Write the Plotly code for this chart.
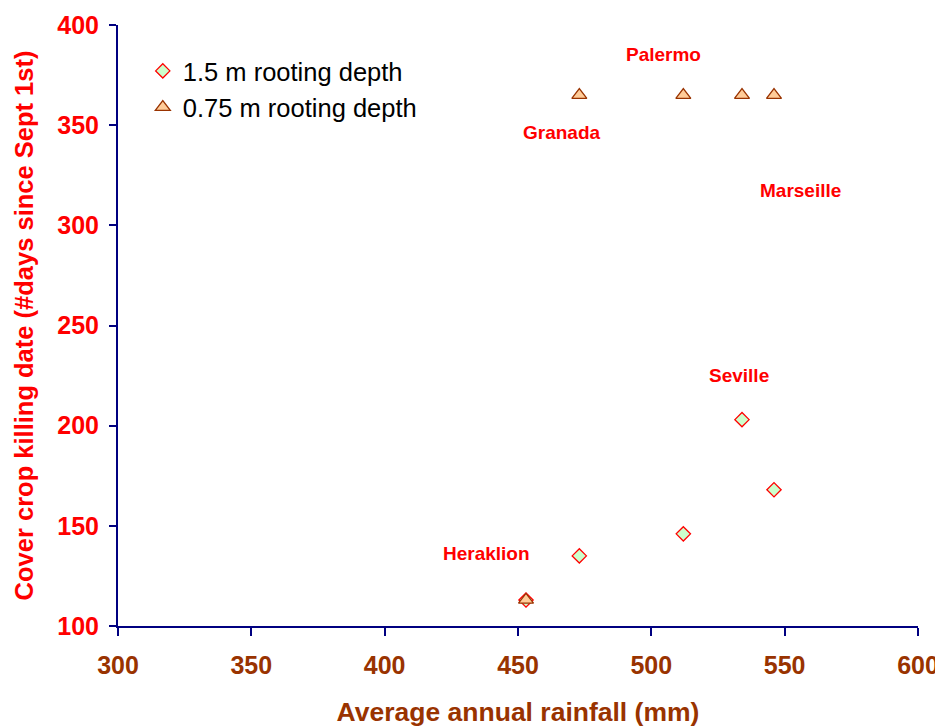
import plotly.graph_objects as go

rainfall = [453, 473, 512, 534, 546]
kill_15m = [113, 135, 146, 203, 168]
kill_075m = [113, 365, 365, 365, 365]

city_names = ["Heraklion", "Granada", "Palermo", "Marseille", "Seville"]
city_x = [438, 466.5, 504.5, 556, 533]
city_y = [136, 346.5, 385.5, 317.5, 225]

fig = go.Figure()
fig.add_trace(go.Scatter(
    x=rainfall, y=kill_15m, mode="markers", name="1.5 m rooting depth",
    legendgroup="a",
    marker=dict(symbol="diamond", size=11, color="#ccffcc",
                line=dict(color="#ff0000", width=1.3))))
fig.add_trace(go.Scatter(
    x=rainfall, y=kill_075m, mode="markers", name="0.75 m rooting depth",
    legendgroup="b",
    marker=dict(symbol="triangle-up", size=13, color="#ffcc99",
                line=dict(color="#993300", width=1.3))))

for n, cx, cy in zip(city_names, city_x, city_y):
    fig.add_annotation(x=cx, y=cy, text=n, showarrow=False, xref="x", yref="y",
                       font=dict(family="Liberation Sans", size=19, color="#ff0000", weight="bold"))

fig.update_layout(
    width=935, height=719,
    margin=dict(l=110, r=25, t=17, b=101, autoexpand=False),
    paper_bgcolor="white", plot_bgcolor="white",
    font=dict(family="Liberation Sans"),
    showlegend=True,
    legend=dict(x=0.031, y=0.962, xanchor="left", yanchor="top",
                bgcolor="rgba(0,0,0,0)", traceorder="grouped", tracegroupgap=0,
                font=dict(family="Liberation Sans", size=25.5, color="black"),
                itemwidth=30),
    xaxis=dict(range=[300, 600], dtick=50, showgrid=False, zeroline=False,
               showline=True, linecolor="#000080", linewidth=2, automargin=False,
               ticks="outside", ticklen=8, tickwidth=2, tickcolor="#000080",
               tickfont=dict(family="Liberation Sans", size=25, color="#993300", weight="bold"),
               ticklabelstandoff=8, ticklabeloverflow="allow",
               title=dict(text="Average annual rainfall (mm)", standoff=26,
                          font=dict(family="Liberation Sans", size=26.5, color="#993300", weight="bold"))),
    yaxis=dict(range=[100, 400], dtick=50, showgrid=False, zeroline=False,
               showline=True, linecolor="#000080", linewidth=2, automargin=False,
               ticks="outside", ticklen=7, tickwidth=2, tickcolor="#000080",
               tickfont=dict(family="Liberation Sans", size=25, color="#ff0000", weight="bold"),
               ticklabelstandoff=5, ticklabeloverflow="allow",
               title=dict(text="Cover crop killing date (#days since Sept 1st)", standoff=16,
                          font=dict(family="Liberation Sans", size=25.5, color="#ff0000", weight="bold"))),
)

fig.write_html("out.html")
